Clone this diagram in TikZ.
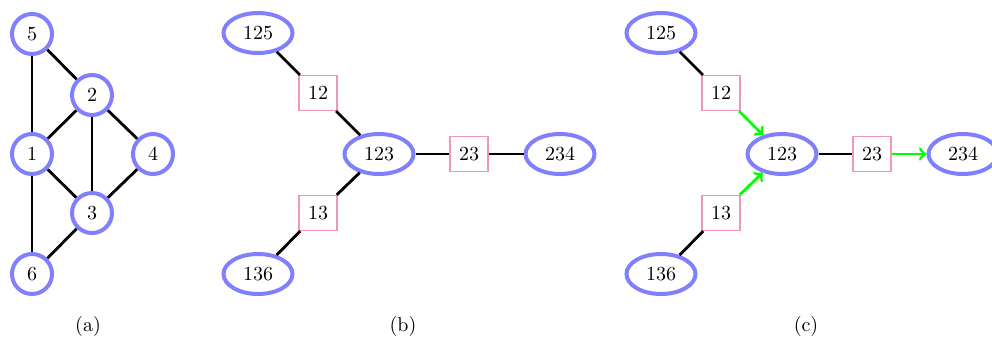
\documentclass[tikz,border=0pt]{standalone}
\usetikzlibrary{shapes.geometric}
\definecolor{vblue}{rgb}{0.5,0.5,1}
\definecolor{spink}{RGB}{240,150,190}
\definecolor{agreen}{RGB}{0,255,0}
\begin{document}
\begin{tikzpicture}[x=0.5pt,y=-0.5pt,
  vert/.style={circle,draw=vblue,line width=2pt,minimum size=20pt,inner sep=0pt},
  clique/.style={ellipse,draw=vblue,line width=2pt,minimum width=34.5pt,minimum height=20pt,inner sep=0pt},
  sepbox/.style={rectangle,draw=spink,line width=0.6pt,minimum width=19pt,minimum height=17.5pt,inner sep=0pt},
  edgeline/.style={draw=black,line width=1.4pt},
  msg/.style={draw=agreen,line width=1.4pt,->},
  caplabel/.style={inner sep=0pt}]
\useasboundingbox (0,0) rectangle (992,338);
% (a)
\node[vert] (v5) at (32,34) {5};
\node[vert] (v2) at (92,95) {2};
\node[vert] (v1) at (32,154) {1};
\node[vert] (v4) at (153,154) {4};
\node[vert] (v3) at (92,213) {3};
\node[vert] (v6) at (32,274) {6};
\draw[edgeline] (v5) -- (v1);
\draw[edgeline] (v5) -- (v2);
\draw[edgeline] (v2) -- (v1);
\draw[edgeline] (v2) -- (v3);
\draw[edgeline] (v2) -- (v4);
\draw[edgeline] (v1) -- (v3);
\draw[edgeline] (v4) -- (v3);
\draw[edgeline] (v1) -- (v6);
\draw[edgeline] (v3) -- (v6);
\node[caplabel] (la) at (88,326) {(a)};
% (b)
\node[clique] (b125) at (258,33) {125};
\node[sepbox] (b12) at (318,93) {12};
\node[clique] (b123) at (379,154) {123};
\node[sepbox] (b23) at (469,154) {23};
\node[clique] (b234) at (560,154) {234};
\node[sepbox] (b13) at (318,213) {13};
\node[clique] (b136) at (258,274) {136};
\draw[edgeline] (b125) -- (b12);
\draw[edgeline] (b12) -- (b123);
\draw[edgeline] (b123) -- (b23);
\draw[edgeline] (b23) -- (b234);
\draw[edgeline] (b123) -- (b13);
\draw[edgeline] (b13) -- (b136);
\node[caplabel] (lb) at (403,326) {(b)};
% (c)
\node[clique] (c125) at (661,33) {125};
\node[sepbox] (c12) at (721,93) {12};
\node[clique] (c123) at (782,154) {123};
\node[sepbox] (c23) at (872,154) {23};
\node[clique] (c234) at (963,154) {234};
\node[sepbox] (c13) at (721,213) {13};
\node[clique] (c136) at (661,274) {136};
\draw[edgeline] (c125) -- (c12);
\draw[msg] (c12) -- (c123);
\draw[edgeline] (c123) -- (c23);
\draw[msg] (c23) -- (c234);
\draw[msg] (c13) -- (c123);
\draw[edgeline] (c13) -- (c136);
\node[caplabel] (lc) at (806,326) {(c)};
\end{tikzpicture}
\end{document}
